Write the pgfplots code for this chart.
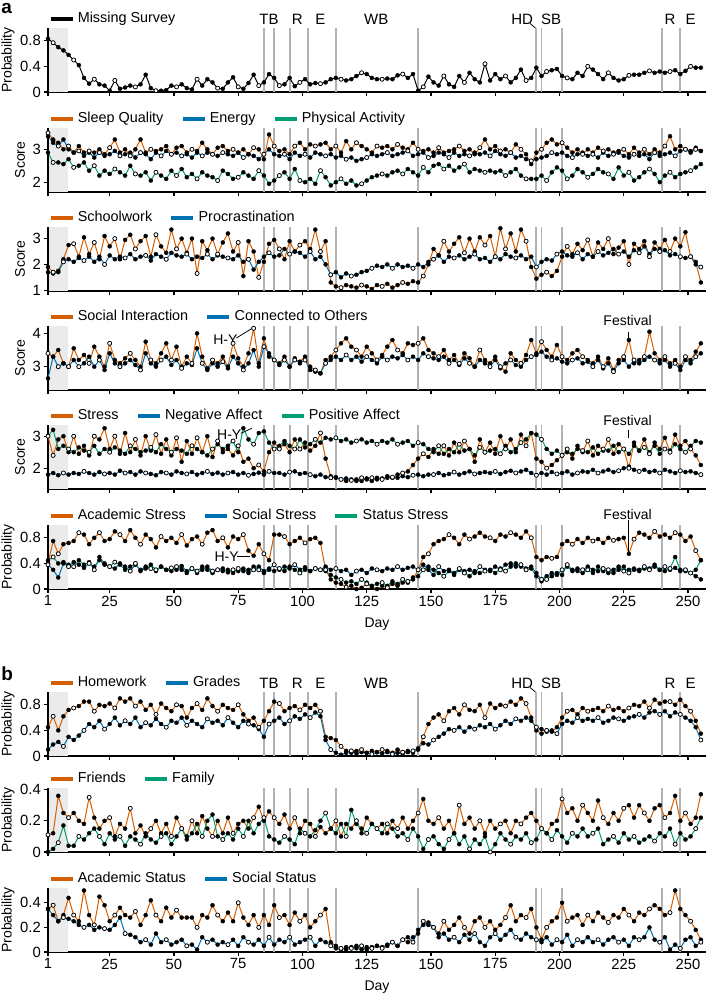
\documentclass[border=0pt]{standalone}
\usepackage{pgfplots}
\pgfplotsset{compat=1.18}
\usepackage{pgfplotstable}
\usepackage{fontspec}
\setmainfont{Liberation Sans}
\definecolor{cO}{HTML}{D55E00}
\definecolor{cB}{HTML}{0072B2}
\definecolor{cG}{HTML}{009E73}

% ---------------- data (one value every 2 days: day 1,3,...,255) ----------------
\pgfplotstableread[row sep=\\]{v\\0.83\\0.77\\0.70\\0.65\\0.58\\
0.50\\0.42\\0.22\\0.13\\0.20\\0.12\\0.10\\0.02\\0.18\\0.05\\
0.07\\0.10\\0.08\\0.12\\0.27\\0.06\\0.02\\0.02\\0.03\\0.10\\
0.08\\0.12\\0.06\\0.04\\0.20\\0.10\\0.20\\0.15\\0.06\\0.05\\
0.15\\0.23\\0.08\\0.05\\0.14\\0.27\\0.10\\0.15\\0.28\\0.22\\
0.10\\0.12\\0.22\\0.09\\0.15\\0.20\\0.12\\0.14\\0.13\\0.15\\
0.20\\0.22\\0.20\\0.18\\0.20\\0.25\\0.30\\0.28\\0.22\\0.20\\
0.20\\0.21\\0.20\\0.26\\0.28\\0.22\\0.28\\0.02\\0.08\\0.24\\
0.15\\0.10\\0.25\\0.12\\0.08\\0.25\\0.15\\0.30\\0.20\\0.15\\
0.44\\0.18\\0.28\\0.20\\0.25\\0.15\\0.22\\0.35\\0.18\\0.22\\
0.38\\0.25\\0.32\\0.34\\0.36\\0.25\\0.22\\0.20\\0.30\\0.25\\
0.40\\0.35\\0.28\\0.20\\0.30\\0.22\\0.18\\0.20\\0.26\\0.27\\
0.27\\0.30\\0.33\\0.30\\0.32\\0.30\\0.32\\0.34\\0.28\\0.33\\
0.40\\0.38\\0.38\\}\tMS

\pgfplotstableread[row sep=\\]{v\\3.5\\3.3\\3.2\\3.0\\3.1\\
2.9\\3.1\\2.9\\2.95\\2.9\\3.0\\2.85\\3.05\\3.3\\2.9\\
3.0\\2.8\\3.0\\3.3\\2.9\\3.0\\2.95\\3.0\\3.1\\2.85\\
3.05\\3.1\\2.9\\3.0\\2.95\\3.2\\3.0\\2.85\\3.05\\3.1\\
2.95\\3.0\\2.9\\3.0\\2.85\\3.05\\3.0\\2.7\\3.45\\3.1\\
2.95\\3.0\\2.85\\3.1\\3.2\\3.0\\3.15\\3.1\\3.15\\3.2\\
3.0\\3.1\\2.9\\3.25\\3.0\\3.2\\3.1\\3.0\\2.9\\3.1\\
3.05\\3.1\\3.0\\3.15\\3.05\\3.0\\3.2\\3.0\\2.95\\3.0\\
2.9\\3.05\\2.9\\2.95\\3.0\\3.1\\2.95\\3.0\\2.85\\3.05\\
3.3\\3.0\\3.1\\2.95\\3.0\\2.9\\3.15\\3.0\\2.85\\2.55\\
2.9\\3.0\\3.2\\3.3\\3.15\\3.2\\3.05\\2.9\\3.0\\2.85\\
3.0\\2.9\\3.05\\2.95\\3.0\\2.9\\2.95\\3.0\\2.85\\3.05\\
2.9\\3.0\\2.85\\3.0\\2.9\\3.1\\3.4\\3.0\\3.1\\3.0\\
2.95\\3.05\\2.95\\}\tSQ

\pgfplotstableread[row sep=\\]{v\\3.4\\3.2\\3.1\\3.3\\3.0\\
2.9\\2.95\\2.8\\2.9\\2.75\\2.9\\2.8\\2.85\\2.95\\2.8\\
2.85\\2.9\\2.75\\2.9\\2.85\\2.7\\2.9\\2.8\\2.95\\2.85\\
2.9\\2.8\\2.85\\2.75\\2.9\\2.8\\2.9\\2.85\\2.8\\2.9\\
2.85\\2.8\\2.9\\2.75\\2.85\\2.8\\2.7\\2.85\\3.0\\2.85\\
2.8\\2.85\\2.7\\2.9\\2.8\\2.85\\2.75\\2.9\\2.85\\2.8\\
2.85\\2.75\\2.8\\2.7\\2.75\\2.65\\2.7\\2.75\\2.85\\2.8\\
2.85\\2.9\\2.8\\2.85\\2.9\\2.95\\2.8\\2.85\\2.9\\2.75\\
2.8\\2.9\\2.85\\2.75\\2.9\\2.8\\2.85\\2.8\\2.9\\2.85\\
2.9\\2.8\\2.95\\2.85\\2.8\\2.9\\2.75\\2.8\\2.7\\2.65\\
2.7\\2.75\\2.8\\2.9\\2.85\\2.9\\2.8\\2.75\\2.85\\2.9\\
2.8\\2.85\\2.75\\2.9\\2.8\\2.85\\2.9\\2.8\\2.75\\2.85\\
2.8\\2.85\\2.7\\2.9\\2.8\\2.85\\2.9\\2.8\\2.95\\3.0\\
2.9\\3.0\\2.95\\}\tEN

\pgfplotstableread[row sep=\\]{v\\2.9\\2.6\\2.6\\2.55\\2.7\\
2.45\\2.5\\2.6\\2.35\\2.5\\2.2\\2.35\\2.25\\2.4\\2.3\\
2.2\\2.5\\2.25\\2.2\\2.3\\2.05\\2.3\\2.2\\2.1\\2.35\\
2.2\\2.4\\2.15\\2.25\\2.1\\2.3\\2.2\\2.15\\2.05\\2.35\\
2.25\\2.1\\2.15\\2.3\\2.2\\2.1\\2.35\\2.2\\1.95\\2.05\\
2.2\\2.3\\2.1\\2.4\\2.05\\2.0\\2.1\\1.95\\2.35\\2.15\\
1.9\\2.0\\2.1\\1.95\\2.05\\1.9\\1.95\\2.05\\2.15\\2.2\\
2.25\\2.2\\2.3\\2.35\\2.25\\2.4\\2.3\\2.2\\2.45\\2.3\\
2.5\\2.55\\2.4\\2.5\\2.35\\2.45\\2.55\\2.3\\2.4\\2.35\\
2.3\\2.35\\2.3\\2.35\\2.2\\2.3\\2.4\\2.2\\2.1\\2.1\\
2.1\\2.2\\2.05\\2.3\\2.45\\2.35\\2.1\\2.2\\2.4\\2.3\\
2.15\\2.25\\2.4\\2.3\\2.25\\2.1\\2.45\\2.2\\2.3\\2.05\\
2.15\\2.3\\2.4\\2.25\\2.0\\2.2\\2.3\\2.15\\2.25\\2.3\\
2.35\\2.45\\2.55\\}\tPA

\pgfplotstableread[row sep=\\]{v\\1.9\\1.7\\1.75\\2.2\\2.75\\
2.8\\2.3\\3.05\\2.4\\2.85\\2.2\\3.1\\2.7\\3.0\\2.2\\
2.95\\3.15\\2.6\\2.9\\3.1\\2.3\\3.15\\2.7\\2.45\\3.35\\
2.6\\3.0\\2.45\\3.0\\1.65\\2.9\\2.55\\3.0\\2.4\\2.85\\
3.2\\2.5\\2.85\\1.55\\2.9\\2.5\\1.5\\2.1\\2.8\\2.95\\
2.6\\2.2\\2.9\\2.5\\2.75\\2.9\\2.6\\3.35\\2.5\\2.9\\
1.3\\1.15\\1.1\\1.2\\1.15\\1.1\\1.2\\1.15\\1.05\\1.2\\
1.15\\1.25\\1.1\\1.2\\1.3\\1.25\\1.35\\1.3\\1.55\\2.0\\
2.6\\2.35\\2.9\\2.5\\2.8\\3.05\\2.45\\3.0\\2.5\\3.05\\
2.75\\3.1\\2.3\\3.4\\2.6\\3.2\\2.5\\3.35\\2.9\\1.9\\
1.45\\1.6\\1.7\\1.55\\1.75\\2.3\\2.7\\2.4\\2.8\\2.55\\
2.95\\2.3\\2.85\\2.6\\3.0\\2.4\\2.65\\2.9\\2.0\\2.8\\
2.6\\2.9\\2.3\\2.85\\2.6\\2.95\\2.5\\3.0\\2.7\\3.25\\
2.3\\2.1\\1.3\\}\tSW

\pgfplotstableread[row sep=\\]{v\\1.7\\1.65\\1.7\\2.1\\2.2\\
2.1\\2.25\\2.15\\2.3\\2.1\\2.3\\2.0\\2.35\\2.2\\2.3\\
2.25\\2.4\\2.2\\2.3\\2.35\\2.15\\2.4\\2.3\\2.2\\2.45\\
2.35\\2.3\\2.4\\2.2\\2.3\\2.25\\2.4\\2.2\\2.35\\2.3\\
2.25\\2.2\\2.35\\2.1\\2.2\\1.8\\2.1\\2.3\\2.45\\2.3\\
2.35\\2.6\\2.4\\2.5\\2.45\\2.3\\2.5\\2.2\\2.3\\2.0\\
1.6\\1.7\\1.5\\1.65\\1.55\\1.6\\1.7\\1.75\\1.85\\1.95\\
1.9\\2.0\\1.85\\2.0\\1.9\\1.95\\1.85\\2.0\\1.9\\2.1\\
2.2\\2.35\\2.1\\2.3\\2.25\\2.35\\2.2\\2.3\\2.4\\2.2\\
2.25\\2.1\\2.3\\2.2\\2.4\\2.3\\2.25\\2.35\\2.2\\2.3\\
1.9\\2.1\\2.2\\2.15\\2.4\\2.5\\2.35\\2.3\\2.45\\2.2\\
2.4\\2.3\\2.5\\2.35\\2.45\\2.6\\2.4\\2.5\\2.3\\2.55\\
2.45\\2.7\\2.4\\2.6\\2.5\\2.55\\2.35\\2.4\\2.3\\2.25\\
2.3\\2.0\\1.9\\}\tPR

\pgfplotstableread[row sep=\\]{v\\3.4\\3.3\\3.5\\3.1\\3.0\\
3.55\\3.2\\3.35\\3.1\\3.6\\3.3\\3.0\\3.7\\3.2\\3.1\\
3.25\\3.4\\3.2\\3.0\\3.75\\3.2\\3.1\\3.4\\3.7\\3.2\\
3.6\\3.0\\3.3\\3.1\\4.0\\3.3\\2.95\\3.2\\3.1\\3.3\\
3.0\\3.7\\3.25\\3.0\\3.4\\4.15\\3.1\\3.85\\3.3\\3.2\\
3.1\\3.3\\3.0\\3.2\\3.15\\3.3\\3.0\\2.9\\2.8\\3.2\\
3.3\\3.5\\3.7\\3.85\\3.6\\3.5\\3.3\\3.6\\3.4\\3.2\\
3.35\\3.6\\3.8\\3.5\\3.4\\3.7\\3.65\\3.7\\3.85\\3.5\\
3.4\\3.3\\3.5\\3.2\\3.35\\3.1\\3.4\\3.25\\3.0\\3.5\\
3.2\\3.1\\3.3\\3.0\\2.85\\3.4\\3.2\\3.1\\3.35\\3.8\\
3.4\\3.75\\3.5\\3.3\\3.65\\3.3\\3.2\\3.4\\3.5\\3.3\\
3.2\\3.1\\3.3\\3.0\\3.25\\2.9\\3.2\\3.3\\3.8\\3.1\\
3.2\\3.3\\4.05\\3.4\\3.2\\3.3\\3.1\\3.2\\3.0\\3.3\\
3.2\\3.45\\3.7\\}\tSI

\pgfplotstableread[row sep=\\]{v\\2.65\\3.3\\3.0\\3.1\\3.0\\
3.2\\3.0\\3.1\\3.3\\3.0\\3.2\\2.9\\3.4\\3.1\\3.0\\
3.1\\3.2\\3.05\\2.9\\3.4\\3.1\\3.0\\3.2\\3.3\\3.05\\
3.2\\2.95\\3.1\\3.05\\3.55\\3.1\\2.9\\3.1\\3.0\\3.15\\
2.95\\3.3\\3.1\\2.9\\3.1\\3.5\\3.0\\3.6\\3.4\\3.2\\
3.05\\3.2\\3.0\\3.25\\3.1\\3.2\\2.9\\2.85\\2.8\\3.1\\
3.2\\3.3\\3.2\\3.35\\3.2\\3.3\\3.15\\3.3\\3.2\\3.1\\
3.3\\3.2\\3.3\\3.25\\3.35\\3.2\\3.3\\3.2\\3.4\\3.3\\
3.25\\3.2\\3.3\\3.1\\3.2\\3.05\\3.25\\3.1\\3.0\\3.2\\
3.1\\3.0\\3.2\\2.95\\3.1\\3.2\\3.05\\3.0\\3.2\\3.3\\
3.35\\3.45\\3.3\\3.2\\3.25\\3.15\\3.1\\3.2\\3.25\\3.1\\
3.15\\3.0\\3.2\\2.95\\3.1\\2.85\\3.1\\3.2\\3.0\\3.2\\
3.1\\3.2\\3.3\\3.2\\3.1\\3.2\\3.0\\3.1\\2.9\\3.2\\
3.1\\3.3\\3.4\\}\tCO

\pgfplotstableread[row sep=\\]{v\\3.0\\2.4\\2.9\\3.0\\2.5\\
3.0\\2.45\\2.7\\2.4\\3.0\\2.9\\3.25\\2.6\\3.0\\2.45\\
3.1\\2.5\\2.9\\2.4\\3.0\\2.55\\3.05\\2.45\\2.9\\2.4\\
2.95\\2.2\\2.85\\2.45\\2.95\\2.5\\3.0\\2.35\\2.85\\2.5\\
2.6\\2.4\\2.7\\2.2\\2.3\\2.0\\2.1\\1.9\\2.5\\2.8\\
2.6\\2.75\\2.5\\2.9\\2.6\\2.8\\2.55\\2.7\\3.1\\2.3\\
1.75\\1.7\\1.65\\1.6\\1.65\\1.6\\1.7\\1.65\\1.6\\1.7\\
1.65\\1.75\\1.7\\1.8\\1.85\\1.9\\2.1\\2.3\\2.45\\2.35\\
2.6\\2.45\\2.7\\2.4\\2.8\\2.5\\2.85\\2.6\\2.2\\2.9\\
2.5\\2.8\\2.45\\3.0\\2.6\\2.9\\2.5\\3.05\\2.7\\3.1\\
2.3\\2.2\\2.0\\2.1\\2.25\\2.4\\2.6\\2.3\\2.7\\2.5\\
2.85\\2.4\\2.7\\2.55\\2.9\\2.45\\2.75\\2.6\\2.0\\2.8\\
2.55\\2.9\\2.45\\2.8\\2.6\\2.95\\2.5\\3.05\\2.7\\2.85\\
2.6\\2.4\\2.1\\}\tST

\pgfplotstableread[row sep=\\]{v\\3.0\\3.2\\2.6\\2.7\\2.6\\
2.5\\2.65\\2.55\\2.5\\2.7\\2.45\\2.6\\2.5\\2.65\\2.55\\
2.45\\2.7\\2.6\\2.5\\2.55\\2.65\\2.5\\2.75\\2.6\\2.5\\
2.6\\2.55\\2.45\\2.7\\2.6\\2.5\\2.4\\2.6\\2.75\\2.6\\
2.7\\2.85\\2.5\\3.25\\2.9\\2.75\\3.1\\3.15\\2.8\\2.6\\
2.7\\2.85\\2.7\\2.6\\2.9\\2.65\\2.75\\2.9\\2.8\\2.95\\
2.9\\2.95\\2.85\\2.9\\2.8\\2.85\\2.9\\2.8\\2.85\\2.75\\
2.85\\2.8\\2.9\\2.75\\2.8\\2.85\\2.7\\2.8\\2.75\\2.6\\
2.5\\2.7\\2.45\\2.6\\2.5\\2.75\\2.55\\2.6\\2.4\\2.65\\
2.5\\2.55\\2.6\\2.45\\2.7\\2.5\\2.6\\2.8\\2.9\\3.1\\
3.05\\2.9\\2.6\\2.45\\2.55\\2.4\\2.5\\2.45\\2.6\\2.55\\
2.5\\2.65\\2.45\\2.6\\2.55\\2.7\\2.5\\2.6\\2.45\\2.7\\
2.55\\2.65\\2.5\\2.7\\2.45\\2.6\\2.55\\2.75\\2.6\\2.5\\
2.7\\2.85\\2.8\\}\tPO

\pgfplotstableread[row sep=\\]{v\\1.8\\1.85\\1.78\\1.85\\1.8\\
1.85\\1.82\\1.9\\1.85\\1.8\\1.88\\1.82\\1.85\\1.8\\1.92\\
1.85\\1.88\\1.8\\1.9\\1.85\\1.82\\1.78\\1.88\\1.85\\1.8\\
1.9\\1.85\\1.82\\1.88\\1.8\\1.85\\1.9\\1.82\\1.86\\1.8\\
1.85\\1.88\\1.8\\1.85\\1.78\\1.82\\1.86\\1.8\\1.9\\1.85\\
1.85\\1.8\\1.88\\1.9\\1.82\\1.85\\1.8\\1.75\\1.8\\1.72\\
1.7\\1.72\\1.65\\1.68\\1.62\\1.65\\1.6\\1.68\\1.7\\1.65\\
1.68\\1.7\\1.72\\1.7\\1.75\\1.72\\1.78\\1.8\\1.75\\1.8\\
1.8\\1.85\\1.78\\1.82\\1.88\\1.8\\1.85\\1.9\\1.82\\1.85\\
1.88\\1.85\\1.9\\1.82\\1.88\\1.92\\1.85\\1.9\\1.95\\1.85\\
1.78\\1.85\\1.8\\1.88\\1.82\\1.85\\1.9\\1.8\\1.85\\1.9\\
1.88\\1.95\\1.85\\1.9\\1.95\\1.88\\1.92\\2.0\\2.05\\1.95\\
1.9\\1.95\\1.88\\1.92\\1.85\\1.95\\1.9\\1.85\\1.92\\1.88\\
1.9\\1.85\\1.8\\}\tNA

\pgfplotstableread[row sep=\\]{v\\0.4\\0.75\\0.55\\0.7\\0.72\\
0.75\\0.88\\0.85\\0.7\\0.8\\0.88\\0.75\\0.78\\0.9\\0.85\\
0.75\\0.92\\0.8\\0.7\\0.85\\0.78\\0.65\\0.82\\0.75\\0.8\\
0.72\\0.85\\0.68\\0.78\\0.82\\0.7\\0.88\\0.92\\0.75\\0.8\\
0.65\\0.82\\0.78\\0.85\\0.6\\0.52\\0.7\\0.55\\0.45\\0.85\\
0.85\\0.82\\0.7\\0.75\\0.8\\0.72\\0.78\\0.8\\0.72\\0.3\\
0.15\\0.1\\0.08\\0.03\\0.05\\0.0\\0.02\\0.08\\0.03\\0.0\\
0.05\\0.02\\0.08\\0.05\\0.1\\0.12\\0.15\\0.3\\0.5\\0.55\\
0.7\\0.75\\0.78\\0.85\\0.8\\0.7\\0.85\\0.78\\0.82\\0.88\\
0.82\\0.8\\0.75\\0.85\\0.82\\0.88\\0.85\\0.8\\0.9\\0.8\\
0.5\\0.45\\0.5\\0.48\\0.5\\0.7\\0.75\\0.7\\0.78\\0.72\\
0.8\\0.75\\0.78\\0.72\\0.8\\0.76\\0.78\\0.8\\0.55\\0.78\\
0.88\\0.85\\0.8\\0.9\\0.82\\0.85\\0.8\\0.88\\0.85\\0.75\\
0.82\\0.6\\0.45\\}\tAS

\pgfplotstableread[row sep=\\]{v\\0.38\\0.3\\0.18\\0.4\\0.35\\
0.42\\0.38\\0.33\\0.4\\0.35\\0.45\\0.38\\0.35\\0.32\\0.4\\
0.35\\0.28\\0.38\\0.3\\0.35\\0.32\\0.28\\0.35\\0.3\\0.33\\
0.3\\0.36\\0.28\\0.32\\0.25\\0.3\\0.35\\0.28\\0.3\\0.32\\
0.26\\0.3\\0.28\\0.32\\0.25\\0.3\\0.35\\0.28\\0.32\\0.38\\
0.3\\0.35\\0.32\\0.38\\0.3\\0.34\\0.28\\0.32\\0.3\\0.35\\
0.3\\0.32\\0.28\\0.3\\0.22\\0.28\\0.3\\0.25\\0.32\\0.3\\
0.28\\0.32\\0.3\\0.35\\0.3\\0.33\\0.35\\0.3\\0.38\\0.3\\
0.22\\0.35\\0.28\\0.3\\0.25\\0.32\\0.28\\0.3\\0.25\\0.35\\
0.3\\0.28\\0.35\\0.3\\0.38\\0.4\\0.35\\0.38\\0.32\\0.35\\
0.25\\0.15\\0.2\\0.25\\0.22\\0.3\\0.35\\0.28\\0.32\\0.3\\
0.35\\0.3\\0.28\\0.32\\0.25\\0.3\\0.35\\0.28\\0.3\\0.32\\
0.3\\0.35\\0.32\\0.38\\0.3\\0.35\\0.3\\0.33\\0.28\\0.3\\
0.25\\0.2\\0.15\\}\tSS

\pgfplotstableread[row sep=\\]{v\\0.45\\0.5\\0.4\\0.42\\0.38\\
0.35\\0.45\\0.38\\0.42\\0.3\\0.5\\0.4\\0.35\\0.42\\0.38\\
0.3\\0.35\\0.4\\0.28\\0.32\\0.38\\0.3\\0.35\\0.3\\0.28\\
0.35\\0.3\\0.25\\0.32\\0.28\\0.35\\0.3\\0.25\\0.3\\0.28\\
0.3\\0.25\\0.32\\0.28\\0.3\\0.35\\0.3\\0.25\\0.3\\0.28\\
0.32\\0.28\\0.35\\0.3\\0.25\\0.3\\0.28\\0.32\\0.3\\0.28\\
0.22\\0.18\\0.15\\0.1\\0.12\\0.08\\0.15\\0.1\\0.05\\0.08\\
0.1\\0.05\\0.12\\0.08\\0.15\\0.1\\0.18\\0.2\\0.3\\0.35\\
0.3\\0.25\\0.2\\0.28\\0.22\\0.3\\0.25\\0.2\\0.28\\0.25\\
0.28\\0.3\\0.25\\0.32\\0.28\\0.35\\0.4\\0.35\\0.3\\0.32\\
0.2\\0.12\\0.15\\0.2\\0.25\\0.22\\0.38\\0.3\\0.28\\0.25\\
0.3\\0.25\\0.35\\0.28\\0.3\\0.25\\0.3\\0.35\\0.25\\0.3\\
0.28\\0.32\\0.3\\0.35\\0.3\\0.28\\0.32\\0.5\\0.3\\0.28\\
0.25\\0.3\\0.45\\}\tSX

\pgfplotstableread[row sep=\\]{v\\0.45\\0.62\\0.4\\0.62\\0.72\\
0.75\\0.78\\0.85\\0.85\\0.7\\0.8\\0.78\\0.82\\0.75\\0.9\\
0.85\\0.9\\0.78\\0.85\\0.72\\0.8\\0.65\\0.82\\0.75\\0.7\\
0.8\\0.78\\0.6\\0.75\\0.82\\0.72\\0.9\\0.78\\0.7\\0.8\\
0.75\\0.72\\0.8\\0.65\\0.55\\0.6\\0.45\\0.55\\0.7\\0.85\\
0.82\\0.7\\0.75\\0.78\\0.72\\0.8\\0.75\\0.8\\0.7\\0.3\\
0.28\\0.25\\0.15\\0.08\\0.05\\0.08\\0.1\\0.05\\0.08\\0.06\\
0.1\\0.08\\0.05\\0.1\\0.06\\0.08\\0.05\\0.1\\0.3\\0.5\\
0.6\\0.65\\0.55\\0.7\\0.75\\0.65\\0.8\\0.72\\0.7\\0.8\\
0.6\\0.82\\0.75\\0.8\\0.78\\0.85\\0.8\\0.9\\0.82\\0.6\\
0.4\\0.35\\0.4\\0.38\\0.45\\0.6\\0.7\\0.72\\0.65\\0.75\\
0.7\\0.72\\0.75\\0.7\\0.78\\0.72\\0.75\\0.7\\0.75\\0.8\\
0.78\\0.85\\0.75\\0.88\\0.82\\0.85\\0.85\\0.8\\0.88\\0.78\\
0.7\\0.55\\0.35\\}\tHW

\pgfplotstableread[row sep=\\]{v\\0.1\\0.18\\0.22\\0.15\\0.3\\
0.25\\0.32\\0.4\\0.5\\0.45\\0.55\\0.42\\0.5\\0.6\\0.48\\
0.55\\0.5\\0.6\\0.45\\0.52\\0.48\\0.58\\0.5\\0.45\\0.55\\
0.52\\0.6\\0.48\\0.55\\0.5\\0.45\\0.58\\0.52\\0.55\\0.48\\
0.6\\0.52\\0.45\\0.55\\0.5\\0.48\\0.42\\0.3\\0.5\\0.55\\
0.6\\0.5\\0.55\\0.62\\0.58\\0.65\\0.6\\0.68\\0.62\\0.25\\
0.1\\0.05\\0.02\\0.05\\0.08\\0.04\\0.06\\0.05\\0.03\\0.06\\
0.04\\0.06\\0.03\\0.05\\0.04\\0.06\\0.08\\0.12\\0.2\\0.18\\
0.25\\0.3\\0.35\\0.42\\0.4\\0.45\\0.38\\0.45\\0.42\\0.48\\
0.45\\0.5\\0.42\\0.48\\0.55\\0.5\\0.58\\0.55\\0.6\\0.55\\
0.45\\0.42\\0.38\\0.4\\0.35\\0.5\\0.55\\0.52\\0.6\\0.55\\
0.58\\0.55\\0.6\\0.52\\0.55\\0.6\\0.58\\0.55\\0.6\\0.62\\
0.65\\0.6\\0.68\\0.7\\0.65\\0.7\\0.62\\0.68\\0.65\\0.6\\
0.55\\0.45\\0.25\\}\tGR

\pgfplotstableread[row sep=\\]{v\\0.11\\0.12\\0.36\\0.25\\0.22\\
0.25\\0.2\\0.18\\0.35\\0.22\\0.15\\0.2\\0.22\\0.1\\0.18\\
0.15\\0.28\\0.12\\0.17\\0.1\\0.15\\0.2\\0.12\\0.18\\0.1\\
0.22\\0.15\\0.1\\0.2\\0.12\\0.23\\0.15\\0.1\\0.2\\0.12\\
0.22\\0.12\\0.18\\0.2\\0.15\\0.22\\0.29\\0.2\\0.26\\0.22\\
0.18\\0.24\\0.15\\0.22\\0.12\\0.2\\0.18\\0.1\\0.16\\0.12\\
0.15\\0.2\\0.1\\0.18\\0.15\\0.2\\0.12\\0.22\\0.18\\0.15\\
0.18\\0.12\\0.2\\0.15\\0.22\\0.15\\0.2\\0.25\\0.34\\0.2\\
0.18\\0.22\\0.15\\0.2\\0.12\\0.3\\0.18\\0.22\\0.15\\0.2\\
0.12\\0.2\\0.15\\0.18\\0.2\\0.12\\0.2\\0.18\\0.22\\0.25\\
0.2\\0.15\\0.12\\0.18\\0.2\\0.34\\0.25\\0.28\\0.2\\0.3\\
0.25\\0.2\\0.33\\0.22\\0.18\\0.25\\0.2\\0.28\\0.3\\0.22\\
0.3\\0.25\\0.2\\0.28\\0.3\\0.22\\0.25\\0.36\\0.2\\0.25\\
0.18\\0.22\\0.37\\}\tFR

\pgfplotstableread[row sep=\\]{v\\0.0\\0.02\\0.06\\0.17\\0.04\\
0.04\\0.1\\0.08\\0.12\\0.15\\0.1\\0.05\\0.12\\0.08\\0.1\\
0.04\\0.1\\0.08\\0.05\\0.12\\0.08\\0.06\\0.1\\0.12\\0.05\\
0.1\\0.15\\0.08\\0.12\\0.18\\0.1\\0.2\\0.24\\0.1\\0.08\\
0.12\\0.08\\0.15\\0.1\\0.2\\0.12\\0.18\\0.22\\0.1\\0.08\\
0.06\\0.1\\0.08\\0.05\\0.15\\0.12\\0.1\\0.14\\0.2\\0.25\\
0.15\\0.12\\0.18\\0.1\\0.27\\0.18\\0.15\\0.12\\0.18\\0.15\\
0.12\\0.18\\0.15\\0.1\\0.12\\0.08\\0.15\\0.1\\0.02\\0.08\\
0.1\\0.05\\0.02\\0.08\\0.12\\0.05\\0.1\\0.02\\0.08\\0.05\\
0.1\\0.0\\0.05\\0.12\\0.08\\0.05\\0.1\\0.08\\0.12\\0.06\\
0.08\\0.15\\0.12\\0.08\\0.14\\0.1\\0.06\\0.12\\0.1\\0.15\\
0.1\\0.12\\0.15\\0.05\\0.08\\0.1\\0.06\\0.12\\0.08\\0.1\\
0.06\\0.08\\0.1\\0.07\\0.12\\0.1\\0.15\\0.05\\0.12\\0.08\\
0.1\\0.15\\0.22\\}\tFA

\pgfplotstableread[row sep=\\]{v\\0.35\\0.38\\0.25\\0.3\\0.44\\
0.3\\0.25\\0.5\\0.3\\0.22\\0.45\\0.38\\0.25\\0.3\\0.36\\
0.3\\0.28\\0.33\\0.22\\0.3\\0.42\\0.3\\0.25\\0.36\\0.28\\
0.34\\0.28\\0.28\\0.28\\0.2\\0.3\\0.28\\0.38\\0.3\\0.25\\
0.32\\0.25\\0.4\\0.28\\0.22\\0.3\\0.2\\0.3\\0.22\\0.38\\
0.28\\0.3\\0.22\\0.32\\0.25\\0.3\\0.2\\0.25\\0.3\\0.35\\
0.08\\0.05\\0.03\\0.02\\0.04\\0.03\\0.05\\0.02\\0.04\\0.05\\
0.03\\0.05\\0.08\\0.05\\0.1\\0.08\\0.12\\0.15\\0.25\\0.22\\
0.2\\0.15\\0.25\\0.18\\0.22\\0.28\\0.2\\0.15\\0.25\\0.28\\
0.2\\0.25\\0.18\\0.22\\0.28\\0.38\\0.25\\0.3\\0.28\\0.35\\
0.2\\0.1\\0.2\\0.25\\0.28\\0.4\\0.25\\0.28\\0.3\\0.22\\
0.3\\0.25\\0.32\\0.28\\0.24\\0.3\\0.28\\0.35\\0.3\\0.25\\
0.32\\0.3\\0.35\\0.38\\0.35\\0.3\\0.32\\0.5\\0.35\\0.3\\
0.25\\0.18\\0.1\\}\tAT

\pgfplotstableread[row sep=\\]{v\\0.35\\0.3\\0.25\\0.28\\0.27\\
0.25\\0.22\\0.2\\0.22\\0.18\\0.2\\0.19\\0.18\\0.22\\0.28\\
0.15\\0.14\\0.12\\0.08\\0.1\\0.06\\0.15\\0.08\\0.1\\0.06\\
0.08\\0.1\\0.05\\0.06\\0.02\\0.12\\0.08\\0.1\\0.06\\0.08\\
0.06\\0.1\\0.05\\0.12\\0.08\\0.06\\0.1\\0.05\\0.12\\0.06\\
0.1\\0.08\\0.12\\0.06\\0.08\\0.1\\0.12\\0.05\\0.1\\0.08\\
0.05\\0.03\\0.02\\0.04\\0.03\\0.05\\0.02\\0.04\\0.03\\0.05\\
0.04\\0.06\\0.08\\0.05\\0.1\\0.12\\0.08\\0.18\\0.22\\0.24\\
0.2\\0.12\\0.15\\0.1\\0.12\\0.08\\0.14\\0.1\\0.15\\0.08\\
0.05\\0.12\\0.15\\0.1\\0.14\\0.18\\0.12\\0.1\\0.15\\0.12\\
0.1\\0.08\\0.12\\0.06\\0.1\\0.08\\0.14\\0.05\\0.1\\0.08\\
0.12\\0.08\\0.1\\0.06\\0.1\\0.12\\0.08\\0.1\\0.05\\0.12\\
0.1\\0.12\\0.2\\0.1\\0.08\\0.12\\0.02\\0.06\\0.03\\0.1\\
0.12\\0.05\\0.08\\}\tSO

\newcommand{\fs}[1]{\fontsize{#1}{#1}\selectfont}

\pgfplotsset{
  panel/.style={
    scale only axis, width=329pt, height=32pt,
    xmin=1, xmax=257, clip=false,
    axis lines*=left,
    axis line style={line width=0.6pt},
    tick style={black, line width=0.6pt},
    tick align=outside, major tick length=2.2pt,
    xtick={1,25,50,75,100,125,150,175,200,225,250},
    xticklabels={},
    extra x ticks={85,89,95,102,113,145,191,193,201,240,247},
    extra x tick labels={},
    extra x tick style={major tick length=0pt, grid=major, major grid style={black!30, line width=0.9pt}},
    tick label style={font=\fs{7.4}},
    label style={font=\fs{7}},
    /pgf/number format/assume math mode=true,
    yticklabel style={/pgf/number format/fixed, inner sep=1.2pt},
    xticklabel style={inner sep=0pt, yshift=-1pt},
    legend style={draw=none, fill=none, at={(0,1)}, anchor=west, yshift=4.5pt,
      legend columns=-1, font=\fs{7.2}, inner sep=0pt,
      nodes={inner xsep=1.5pt, inner ysep=0pt},
      /tikz/every even column/.append style={column sep=7pt}},
    legend image code/.code={\draw[#1, line width=2.2pt] (0pt,0pt) -- (11pt,0pt);},
  },
  prob/.style={ylabel={Probability}, ylabel style={at={(axis description cs:-0.0608,0.5)}, anchor=center}},
  score/.style={ylabel={Score}, ylabel style={at={(axis description cs:-0.0426,0.5)}, anchor=center}},
  bottomx/.style={xticklabels={1,25,50,75,100,125,150,175,200,225,250}, xlabel={Day},
    xlabel style={yshift=0pt}},
  ser/.style={line width=0.5pt, mark=*, mark size=1pt,
    mark options={solid, fill=black, draw=black, line width=0.2pt}},
  opn/.style={forget plot, only marks, mark=*, mark size=1pt,
    mark options={fill=white, draw=black, line width=0.35pt}, mark repeat=4, mark phase=#1},
}
\tikzset{toplab/.style={font=\fs{7.5}, yshift=4.2pt, inner sep=0pt},
  ann/.style={font=\fs{7}, inner sep=0pt}}

\begin{document}
\begin{tikzpicture}
\useasboundingbox (0,0) rectangle (354.5pt,-497.5pt);
\node[font=\bfseries\fs{9.5}, anchor=north west, inner sep=0pt] at (0.5pt,-1.5pt) {a};
\node[font=\bfseries\fs{9.5}, anchor=north west, inner sep=0pt] at (0.5pt,-333pt) {b};

% ---------- a1 ----------
\begin{axis}[panel, prob, at={(24pt,-46pt)}, anchor=south west, ymin=0, ymax=1, ytick={0,0.4,0.8}]
\fill[black!8] (axis cs:1.3,0) rectangle (axis cs:8.7,1);
\addplot[ser, black] table[x expr=2*\coordindex+1,y=v] {\tMS}; \addlegendentry{Missing Survey}
\addplot[opn=2] table[x expr=2*\coordindex+1,y=v] {\tMS};
\node[toplab] at (axis cs:87,1) {TB};
\node[toplab] at (axis cs:98,1) {R};
\node[toplab] at (axis cs:107,1) {E};
\node[toplab] at (axis cs:128.7,1) {WB};
\node[toplab] at (axis cs:185.5,1) {HD};
\node[toplab] at (axis cs:196.7,1) {SB};
\node[toplab] at (axis cs:243,1) {R};
\node[toplab] at (axis cs:251,1) {E};
\draw[line width=0.4pt] (axis cs:188.6,1.07) -- (axis cs:190.6,1.0);
\end{axis}

% ---------- a2 ----------
\begin{axis}[panel, score, at={(24pt,-96pt)}, anchor=south west, ymin=1.7, ymax=3.65, ytick={2,3}]
\fill[black!8] (axis cs:1.3,1.7) rectangle (axis cs:8.7,3.65);
\addplot[ser, color=cO] table[x expr=2*\coordindex+1,y=v] {\tSQ}; \addlegendentry{Sleep Quality}
\addplot[ser, color=cB] table[x expr=2*\coordindex+1,y=v] {\tEN}; \addlegendentry{Energy}
\addplot[ser, color=cG] table[x expr=2*\coordindex+1,y=v] {\tPA}; \addlegendentry{Physical Activity}
\addplot[opn=1] table[x expr=2*\coordindex+1,y=v] {\tSQ};
\addplot[opn=3] table[x expr=2*\coordindex+1,y=v] {\tEN};
\addplot[opn=2] table[x expr=2*\coordindex+1,y=v] {\tPA};
\end{axis}

% ---------- a3 ----------
\begin{axis}[panel, score, at={(24pt,-145.5pt)}, anchor=south west, ymin=0.97, ymax=3.45, ytick={1,2,3}]
\fill[black!8] (axis cs:1.3,0.97) rectangle (axis cs:8.7,3.45);
\addplot[ser, color=cO] table[x expr=2*\coordindex+1,y=v] {\tSW}; \addlegendentry{Schoolwork}
\addplot[ser, color=cB] table[x expr=2*\coordindex+1,y=v] {\tPR}; \addlegendentry{Procrastination}
\addplot[opn=2] table[x expr=2*\coordindex+1,y=v] {\tSW};
\addplot[opn=4] table[x expr=2*\coordindex+1,y=v] {\tPR};
\end{axis}

% ---------- a4 ----------
\begin{axis}[panel, score, at={(24pt,-195pt)}, anchor=south west, ymin=2.3, ymax=4.22, ytick={3,4}]
\fill[black!8] (axis cs:1.3,2.3) rectangle (axis cs:8.7,4.22);
\addplot[ser, color=cO] table[x expr=2*\coordindex+1,y=v] {\tSI}; \addlegendentry{Social Interaction}
\addplot[ser, color=cB] table[x expr=2*\coordindex+1,y=v] {\tCO}; \addlegendentry{Connected to Others}
\addplot[opn=1] table[x expr=2*\coordindex+1,y=v] {\tSI};
\addplot[opn=3] table[x expr=2*\coordindex+1,y=v] {\tCO};
\node[ann] at (axis cs:70,3.82) {H-Y};
\draw[line width=0.4pt] (axis cs:74.3,3.86) -- (axis cs:80.4,4.15);
\node[ann] at (axis cs:226.5,4.39) {Festival};
\draw[line width=0.5pt] (axis cs:227,4.05) -- (axis cs:227,3.85);
\end{axis}

% ---------- a5 ----------
\begin{axis}[panel, score, at={(24pt,-244.5pt)}, anchor=south west, ymin=1.35, ymax=3.35, ytick={2,3}]
\fill[black!8] (axis cs:1.3,1.35) rectangle (axis cs:8.7,3.35);
\addplot[ser, color=cO] table[x expr=2*\coordindex+1,y=v] {\tST}; \addlegendentry{Stress}
\addplot[ser, color=cB] table[x expr=2*\coordindex+1,y=v] {\tNA}; \addlegendentry{Negative Affect}
\addplot[ser, color=cG] table[x expr=2*\coordindex+1,y=v] {\tPO}; \addlegendentry{Positive Affect}
\addplot[opn=2] table[x expr=2*\coordindex+1,y=v] {\tST};
\addplot[opn=4] table[x expr=2*\coordindex+1,y=v] {\tNA};
\addplot[opn=1] table[x expr=2*\coordindex+1,y=v] {\tPO};
\node[ann] at (axis cs:71.5,3.06) {H-Y};
\draw[line width=0.4pt] (axis cs:76,3.09) -- (axis cs:80.4,3.25);
\node[ann] at (axis cs:226.5,3.48) {Festival};
\draw[line width=0.5pt] (axis cs:227,3.19) -- (axis cs:227,2.93);
\end{axis}

% ---------- a6 ----------
\begin{axis}[panel, prob, bottomx, at={(24pt,-294.5pt)}, anchor=south west, ymin=0, ymax=1, ytick={0,0.4,0.8}]
\fill[black!8] (axis cs:1.3,0) rectangle (axis cs:8.7,1);
\addplot[ser, color=cO] table[x expr=2*\coordindex+1,y=v] {\tAS}; \addlegendentry{Academic Stress}
\addplot[ser, color=cB] table[x expr=2*\coordindex+1,y=v] {\tSS}; \addlegendentry{Social Stress}
\addplot[ser, color=cG] table[x expr=2*\coordindex+1,y=v] {\tSX}; \addlegendentry{Status Stress}
\addplot[opn=3] table[x expr=2*\coordindex+1,y=v] {\tAS};
\addplot[opn=1] table[x expr=2*\coordindex+1,y=v] {\tSS};
\addplot[opn=2] table[x expr=2*\coordindex+1,y=v] {\tSX};
\node[ann] at (axis cs:70.5,0.505) {H-Y};
\draw[line width=0.5pt] (axis cs:74.6,0.51) -- (axis cs:79.5,0.51);
\node[ann] at (axis cs:226.5,1.16) {Festival};
\draw[line width=0.5pt] (axis cs:227,1.08) -- (axis cs:227,0.57);
\end{axis}

% ---------- b1 ----------
\begin{axis}[panel, prob, at={(24pt,-378pt)}, anchor=south west, ymin=0, ymax=1, ytick={0,0.4,0.8}]
\fill[black!8] (axis cs:1.3,0) rectangle (axis cs:8.7,1);
\addplot[ser, color=cO] table[x expr=2*\coordindex+1,y=v] {\tHW}; \addlegendentry{Homework}
\addplot[ser, color=cB] table[x expr=2*\coordindex+1,y=v] {\tGR}; \addlegendentry{Grades}
\addplot[opn=2] table[x expr=2*\coordindex+1,y=v] {\tHW};
\addplot[opn=4] table[x expr=2*\coordindex+1,y=v] {\tGR};
\node[toplab] at (axis cs:87,1) {TB};
\node[toplab] at (axis cs:98,1) {R};
\node[toplab] at (axis cs:107,1) {E};
\node[toplab] at (axis cs:128.7,1) {WB};
\node[toplab] at (axis cs:185.5,1) {HD};
\node[toplab] at (axis cs:196.7,1) {SB};
\node[toplab] at (axis cs:243,1) {R};
\node[toplab] at (axis cs:251,1) {E};
\draw[line width=0.4pt] (axis cs:188.6,1.07) -- (axis cs:190.6,1.0);
\end{axis}

% ---------- b2 ----------
\begin{axis}[panel, prob, at={(24pt,-426pt)}, anchor=south west, ymin=0, ymax=0.41, ytick={0,0.2,0.4}]
\fill[black!8] (axis cs:1.3,0) rectangle (axis cs:8.7,0.41);
\addplot[ser, color=cO] table[x expr=2*\coordindex+1,y=v] {\tFR}; \addlegendentry{Friends}
\addplot[ser, color=cG] table[x expr=2*\coordindex+1,y=v] {\tFA}; \addlegendentry{Family}
\addplot[opn=1] table[x expr=2*\coordindex+1,y=v] {\tFR};
\addplot[opn=3] table[x expr=2*\coordindex+1,y=v] {\tFA};
\end{axis}

% ---------- b3 ----------
\begin{axis}[panel, prob, bottomx, at={(24pt,-476pt)}, anchor=south west, ymin=0, ymax=0.52, ytick={0,0.2,0.4}]
\fill[black!8] (axis cs:1.3,0) rectangle (axis cs:8.7,0.52);
\addplot[ser, color=cO] table[x expr=2*\coordindex+1,y=v] {\tAT}; \addlegendentry{Academic Status}
\addplot[ser, color=cB] table[x expr=2*\coordindex+1,y=v] {\tSO}; \addlegendentry{Social Status}
\addplot[opn=2] table[x expr=2*\coordindex+1,y=v] {\tAT};
\addplot[opn=4] table[x expr=2*\coordindex+1,y=v] {\tSO};
\end{axis}
\end{tikzpicture}
\end{document}
